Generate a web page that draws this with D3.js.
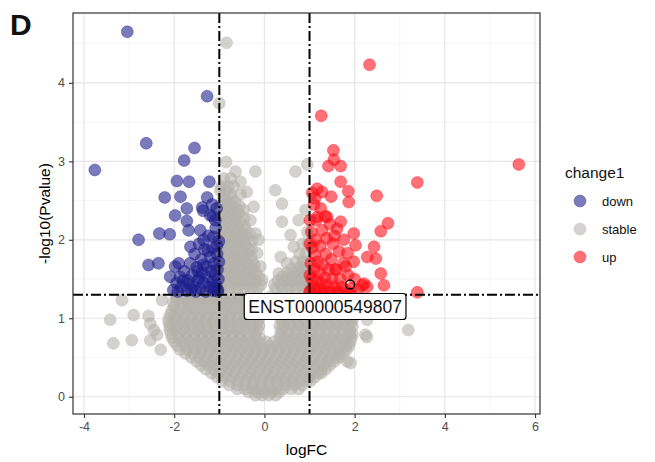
<!DOCTYPE html>
<html>
<head>
<meta charset="utf-8">
<script src="https://cdn.jsdelivr.net/npm/d3@7"></script>
<style>
  body { margin: 0; background: #fff; }
  text { font-family: "Liberation Sans", Arial, sans-serif; }
</style>
</head>
<body>
<div id="chart"></div>
<script>
// ---- data (logFC, -log10 Pvalue) ----
const downPoints = [
  [-3.04,4.65],[-1.27,3.83],[-2.62,3.23],[-3.76,2.89],[-1.55,3.17],[-1.78,3.01],[-1.94,2.75],[-1.67,2.74],
  [-1.22,2.74],[-2.21,2.54],[-1.86,2.55],[-1.27,2.54],[-1.72,2.40],[-1.38,2.41],[-1.16,2.45],[-1.98,2.31],
  [-1.72,2.24],[-1.20,2.31],[-1.09,2.25],[-1.36,2.37],[-1.68,2.12],[-2.33,2.08],[-2.10,2.07],[-2.79,2.00],
  [-1.42,2.12],[-1.35,2.00],[-1.64,1.91],[-1.13,2.04],[-1.05,1.93],[-2.57,1.68],[-2.35,1.70],[-1.98,1.66],
  [-2.09,1.53],[-1.87,1.53],
  [-1.95,1.45],[-1.85,1.40],[-1.78,1.60],[-1.72,1.35],[-1.70,1.48],[-1.65,1.70],[-1.60,1.55],[-1.58,1.40],
  [-1.55,1.82],[-1.52,1.34],[-1.50,1.65],[-1.47,1.48],[-1.45,1.95],[-1.42,1.38],[-1.40,1.75],[-1.38,1.58],
  [-1.35,1.45],[-1.33,1.88],[-1.30,1.34],[-1.28,1.66],[-1.26,1.52],[-1.24,2.05],[-1.22,1.40],[-1.20,1.78],
  [-1.18,1.60],[-1.16,1.47],[-1.15,1.90],[-1.13,1.35],[-1.12,1.70],[-1.10,1.55],[-1.08,2.15],[-1.07,1.42],
  [-1.05,1.82],[-1.04,1.62],[-1.03,1.36],[-1.02,1.50],[-1.01,1.98],[-1.01,1.72],[-1.90,1.70],[-1.80,1.48],
  [-1.62,1.36],[-1.48,1.60],[-1.36,1.68],[-1.25,1.86],[-1.14,2.30],[-1.06,2.40],[-1.68,1.44],[-1.44,1.52],
  [-2.02,1.36],[-1.92,1.34],[-1.12,1.38],[-1.03,1.34]
];

const upPoints = [
  [2.33,4.23],[1.26,3.58],[5.64,2.96],[1.53,3.14],[1.54,3.02],[1.42,2.94],[1.69,2.94],[3.39,2.73],
  [1.69,2.74],[1.86,2.62],[2.49,2.56],[1.87,2.48],[1.48,2.55],[1.17,2.65],[1.28,2.61],[1.12,2.53],
  [2.74,2.21],[2.58,2.11],[1.39,2.29],[1.17,2.29],[1.69,2.23],[1.61,2.14],[1.98,2.08],[1.76,2.00],
  [2.02,1.93],[2.43,1.91],[2.28,1.78],[2.47,1.76],[1.98,1.72],[1.84,1.83],[2.58,1.57],[2.65,1.42],
  [2.21,1.44],[1.80,1.66],[1.58,1.62],[2.28,1.40],[2.17,1.42],[3.39,1.33],
  [1.02,1.35],[1.05,1.50],[1.03,1.70],[1.06,1.90],[1.04,2.10],[1.08,1.40],[1.10,1.62],[1.12,1.80],
  [1.14,2.00],[1.12,1.34],[1.16,1.48],[1.18,1.72],[1.20,1.38],[1.22,1.58],[1.24,1.92],[1.26,1.45],
  [1.28,2.12],[1.30,1.68],[1.32,1.36],[1.34,1.52],[1.36,1.82],[1.38,2.02],[1.40,1.42],[1.42,1.62],
  [1.45,1.34],[1.48,1.75],[1.50,1.50],[1.52,1.95],[1.55,1.40],[1.58,1.62],[1.62,1.35],[1.65,1.85],
  [1.68,1.50],[1.72,1.40],[1.75,1.70],[1.80,1.36],[1.85,1.55],[1.92,1.38],[2.00,1.50],[2.08,1.36],
  [1.15,2.25],[1.25,2.40],[1.10,2.45],[1.35,2.30],[1.45,2.20],[1.55,2.05],[1.06,2.60],[1.01,1.55],
  [1.01,1.95],[1.01,2.25],[1.30,1.32],[1.60,1.32],[1.88,1.32],[1.00,1.33]
];

// stable genes, listed row by row as [-log10 Pvalue, [logFC, ...]]
const stableRows = [
  [0.02, [-0.2,-0.05,0.1,0.25]],
  [0.06, [-0.35,-0.17,0.0,0.17,0.33]],
  [0.10, [-0.6,-0.43,-0.26,-0.09,0.08,0.25,0.42,0.59,0.76]],
  [0.15, [-0.78,-0.6,-0.42,-0.24,-0.06,0.12,0.3,0.48,0.66,0.84]],
  [0.20, [-0.93,-0.76,-0.59,-0.42,-0.25,-0.08,0.09,0.26,0.43,0.6,0.77,0.94,1.02]],
  [0.25, [-1.05,-0.88,-0.71,-0.54,-0.37,-0.2,-0.03,0.14,0.31,0.48,0.65,0.82,0.99,1.12]],
  [0.30, [-1.17,-1.0,-0.83,-0.66,-0.49,-0.32,-0.15,0.02,0.19,0.36,0.53,0.7,0.87,1.04,1.2,1.26]],
  [0.35, [-1.3,-1.12,-0.95,-0.78,-0.61,-0.44,-0.27,-0.1,0.07,0.24,0.41,0.58,0.75,0.92,1.09,1.26,1.36]],
  [0.40, [-1.4,-1.23,-1.06,-0.89,-0.72,-0.55,-0.38,-0.21,-0.04,0.13,0.3,0.47,0.64,0.81,0.98,1.15,1.32,1.45]],
  [0.45, [-1.5,-1.33,-1.16,-0.99,-0.82,-0.65,-0.48,-0.31,-0.14,0.03,0.2,0.37,0.54,0.71,0.88,1.05,1.22,1.39,1.55]],
  [0.50, [-1.62,-1.45,-1.28,-1.11,-0.94,-0.77,-0.6,-0.43,-0.26,-0.09,0.08,0.25,0.42,0.59,0.76,0.93,1.1,1.27,1.44,1.6,1.67]],
  [0.55, [-1.75,-1.58,-1.41,-1.24,-1.07,-0.9,-0.73,-0.56,-0.39,-0.22,-0.05,0.12,0.29,0.46,0.63,0.8,0.97,1.14,1.31,1.48,1.65,1.75]],
  [0.60, [-1.87,-1.7,-1.53,-1.36,-1.19,-1.02,-0.85,-0.68,-0.51,-0.34,-0.17,0.0,0.17,0.34,0.51,0.68,0.85,1.02,1.19,1.36,1.53,1.7,1.82]],
  [0.65, [-1.93,-1.76,-1.59,-1.42,-1.25,-1.08,-0.91,-0.74,-0.57,-0.4,-0.23,-0.06,0.11,0.28,0.45,0.62,0.79,0.96,1.13,1.3,1.47,1.64,1.81,1.88]],
  [0.70, [-2.0,-1.83,-1.66,-1.49,-1.32,-1.15,-0.98,-0.81,-0.64,-0.47,-0.3,-0.13,0.04,0.21,0.38,0.55,0.72,0.89,1.06,1.23,1.4,1.57,1.74,1.9]],
  [0.75, [-2.05,-1.9,-1.74,-1.57,-1.4,-1.23,-1.06,-0.89,-0.72,-0.55,-0.38,-0.21,-0.1,0.34,0.47,0.64,0.81,0.98,1.15,1.32,1.49,1.66,1.83,1.93]],
  [0.80, [-2.07,-1.9,-1.73,-1.56,-1.39,-1.22,-1.05,-0.88,-0.71,-0.54,-0.37,-0.2,0.36,0.53,0.7,0.87,1.04,1.21,1.38,1.55,1.72,1.89,1.95]],
  [0.85, [-2.1,-1.98,-1.81,-1.64,-1.47,-1.3,-1.13,-0.96,-0.79,-0.62,-0.45,-0.28,-0.15,0.38,0.53,0.7,0.87,1.04,1.21,1.38,1.55,1.72,1.89]],
  [0.90, [-2.1,-1.93,-1.76,-1.59,-1.42,-1.25,-1.08,-0.91,-0.74,-0.57,-0.4,-0.23,-0.12,0.34,0.44,0.61,0.78,0.95,1.12,1.29,1.46,1.63,1.8,1.95]],
  [0.95, [-2.12,-2.0,-1.83,-1.66,-1.49,-1.32,-1.15,-0.98,-0.81,-0.64,-0.47,-0.3,-0.15,0.4,0.56,0.73,0.9,1.07,1.24,1.41,1.58,1.75,1.92]],
  [1.00, [-2.12,-1.95,-1.78,-1.61,-1.44,-1.27,-1.1,-0.93,-0.76,-0.59,-0.42,-0.25,-0.12,0.35,0.52,0.69,0.86,1.03,1.2,1.37,1.54,1.71,1.88,1.97]],
  [1.05, [-2.08,-1.96,-1.79,-1.62,-1.45,-1.28,-1.11,-0.94,-0.77,-0.6,-0.43,-0.26,-0.1,0.38,0.54,0.71,0.88,1.05,1.22,1.39,1.56,1.73,1.9]],
  [1.10, [-2.05,-1.88,-1.71,-1.54,-1.37,-1.2,-1.03,-0.86,-0.69,-0.52,-0.35,-0.18,-0.05,0.3,0.45,0.62,0.79,0.96,1.13,1.3,1.47,1.64,1.81,1.98]],
  [1.15, [-2.0,-1.8,-1.62,-1.45,-1.28,-1.11,-0.94,-0.77,-0.6,-0.43,-0.26,-0.09,0.1,0.27,0.44,0.61,0.78,0.95,1.12,1.29,1.46,1.63,1.8,1.96]],
  [1.20, [-2.02,-1.85,-1.68,-1.51,-1.34,-1.17,-1.0,-0.83,-0.66,-0.49,-0.32,-0.15,0.02,0.19,0.36,0.53,0.7,0.87,1.04,1.21,1.38,1.55,1.72,1.89,2.02]],
  [1.24, [-1.95,-1.76,-1.59,-1.42,-1.25,-1.08,-0.91,-0.74,-0.57,-0.4,-0.23,-0.06,0.11,0.28,0.45,0.62,0.79,0.96,1.13,1.3,1.47,1.64,1.81,1.98]],
  [1.28, [-1.95,-1.75,-1.55,-1.35,-1.15,-0.95,-0.75,-0.55,-0.35,-0.15,0.15,0.35,0.55,0.75,0.95,1.15,1.35,1.55,1.75,1.95,2.1]],
  [1.38, [-0.9,-0.75,-0.6,-0.45,-0.3,-0.15,0.25,0.4,0.55,0.7,0.85,0.97]],
  [1.43, [-0.98,-0.83,-0.68,-0.53,-0.38,-0.23,-0.08,0.22,0.37,0.52,0.67,0.82,0.95]],
  [1.48, [-0.95,-0.8,-0.65,-0.5,-0.35,-0.2,0.3,0.45,0.6,0.75,0.9]],
  [1.53, [-0.88,-0.72,-0.57,-0.42,-0.27,-0.12,0.4,0.55,0.7,0.85,0.98]],
  [1.58, [-0.9,-0.75,-0.6,-0.45,-0.3,-0.18,0.5,0.65,0.8,0.95]],
  [1.63, [-0.98,-0.83,-0.68,-0.53,-0.38,-0.25,0.6,0.75,0.9]],
  [1.68, [-0.95,-0.8,-0.65,-0.5,-0.36,-0.22]],
  [1.72, [0.7,0.85,0.97]],
  [1.73, [-0.88,-0.72,-0.57,-0.42,-0.28]],
  [1.78, [-0.9,-0.75,-0.6,-0.45,-0.3]],
  [1.82, [0.78,0.92]],
  [1.83, [-0.98,-0.83,-0.68,-0.53,-0.38]],
  [1.88, [-0.95,-0.8,-0.65,-0.5,-0.35,-0.28]],
  [1.93, [-0.88,-0.72,-0.57,-0.42]],
  [1.95, [0.85,0.97]],
  [1.98, [-0.9,-0.75,-0.6,-0.45,-0.28]],
  [2.03, [-0.98,-0.83,-0.68,-0.53,-0.38]],
  [2.08, [-0.95,-0.8,-0.65,-0.5,-0.33]],
  [2.10, [0.95]],
  [2.13, [-0.88,-0.72,-0.57,-0.42]],
  [2.18, [-0.9,-0.75,-0.6,-0.45]],
  [2.23, [-0.98,-0.83,-0.68,-0.55]],
  [2.28, [-0.95,-0.8,-0.65,-0.45]],
  [2.33, [-0.88,-0.72,-0.57]],
  [2.38, [-0.9,-0.75,-0.6,-0.46]],
  [2.43, [-0.98,-0.83,-0.7,-0.55]],
  [2.48, [-0.95,-0.8,-0.65]],
  [2.53, [-0.88,-0.72]],
  [2.58, [-0.9,-0.75,-0.53]],
  [2.63, [-0.98,-0.85]],
  [2.68, [-0.95,-0.8,-0.68]],
  [2.78, [-0.9,-0.75]]
];

const stableExtra = [
  [-0.84,4.51],[-1.0,3.74],[-0.85,2.99],[-0.64,2.87],[-0.2,2.87],[-0.53,2.74],[-0.39,2.61],[-0.24,2.42],
  [-0.31,2.25],[-0.2,2.08],[-0.13,2.0],[-0.16,1.83],[-0.09,1.66],[-0.05,1.49],
  [0.95,2.96],[0.69,2.87],[0.24,2.63],[0.39,2.46],[0.91,2.38],[0.39,2.23],[0.76,2.25],[0.58,2.06],
  [0.65,1.91],[0.36,1.78],[0.5,1.7],[0.32,1.57],[0.8,1.66],
  [-3.16,1.23],[-3.42,0.98],[-2.9,1.04],[-2.57,1.03],[-2.53,0.93],[-3.35,0.68],[-2.94,0.72],[-2.27,1.23],
  [-2.53,0.72],[-2.38,0.79],[-2.45,0.85],[-2.3,0.6],
  [3.19,0.85],[2.27,0.76],[2.28,0.98],[1.91,0.43],[2.24,0.79],[1.84,0.45]
];

const labelGene = { name: "ENST00000549807", logFC: 1.9, p: 1.43 };

const xTicks = [-4, -2, 0, 2, 4, 6];
const yTicks = [0, 1, 2, 3, 4];
const groups = ["down", "stable", "up"];
const colors = { down: "#1B1B8C", stable: "#B4B2AB", up: "#FF0A14" };

// ---- layout ----
const width = 655, height = 462;
const panel = { left: 73, top: 13, right: 540, bottom: 414 };

const xScale = d3.scaleLinear().domain([-4.244, 6.11]).range([panel.left, panel.right]);
const yScale = d3.scaleLinear().domain([-0.22, 4.89]).range([panel.bottom, panel.top]);

const svg = d3.select("#chart").append("svg").attr("width", width).attr("height", height);

// grid
const xMinor = [-3, -1, 1, 3, 5];
const yMinor = [0.5, 1.5, 2.5, 3.5, 4.5];
const grid = svg.append("g");
grid.selectAll("line.xminor").data(xMinor).join("line")
  .attr("x1", d => xScale(d)).attr("x2", d => xScale(d))
  .attr("y1", panel.top).attr("y2", panel.bottom)
  .attr("stroke", "#F0F0F0").attr("stroke-width", 0.7);
grid.selectAll("line.yminor").data(yMinor).join("line")
  .attr("y1", d => yScale(d)).attr("y2", d => yScale(d))
  .attr("x1", panel.left).attr("x2", panel.right)
  .attr("stroke", "#F0F0F0").attr("stroke-width", 0.7);
grid.selectAll("line.xmajor").data(xTicks).join("line")
  .attr("x1", d => xScale(d)).attr("x2", d => xScale(d))
  .attr("y1", panel.top).attr("y2", panel.bottom)
  .attr("stroke", "#E6E6E6").attr("stroke-width", 1.2);
grid.selectAll("line.ymajor").data(yTicks).join("line")
  .attr("y1", d => yScale(d)).attr("y2", d => yScale(d))
  .attr("x1", panel.left).attr("x2", panel.right)
  .attr("stroke", "#E6E6E6").attr("stroke-width", 1.2);

// points
const stablePoints = [];
stableRows.forEach(([p, xs]) => xs.forEach(fc => stablePoints.push([fc, p])));
stableExtra.forEach(d => stablePoints.push(d));

function drawPoints(data, col) {
  svg.append("g").selectAll("circle").data(data).join("circle")
    .attr("cx", d => xScale(d[0]))
    .attr("cy", d => yScale(d[1]))
    .attr("r", 6)
    .attr("fill", col).attr("fill-opacity", 0.58)
    .attr("stroke", col).attr("stroke-opacity", 0.45).attr("stroke-width", 0.8);
}
drawPoints(stablePoints, colors.stable);
drawPoints(downPoints, colors.down);
drawPoints(upPoints, colors.up);

// threshold lines
const dash = "10,3,2,3";
svg.selectAll("line.vthr").data([-1, 1]).join("line")
  .attr("x1", d => xScale(d)).attr("x2", d => xScale(d))
  .attr("y1", panel.top).attr("y2", panel.bottom)
  .attr("stroke", "#000").attr("stroke-width", 2).attr("stroke-dasharray", dash);
svg.append("line")
  .attr("x1", panel.left).attr("x2", panel.right)
  .attr("y1", yScale(-Math.log10(0.05))).attr("y2", yScale(-Math.log10(0.05)))
  .attr("stroke", "#000").attr("stroke-width", 2).attr("stroke-dasharray", dash);

// labelled gene
const gx = xScale(labelGene.logFC), gy = yScale(labelGene.p);
svg.append("circle").attr("cx", gx).attr("cy", gy).attr("r", 4.5)
  .attr("fill", "none").attr("stroke", "#000").attr("stroke-width", 1.3);
const lab = svg.append("g").attr("transform", `translate(${gx - 25},${gy + 22})`);
const labText = lab.append("text")
  .attr("text-anchor", "middle").attr("dy", "0.36em")
  .attr("font-size", 17.5).attr("fill", "#111")
  .text(labelGene.name);
const bb = labText.node().getBBox();
lab.insert("rect", "text")
  .attr("x", bb.x - 4).attr("y", -13).attr("width", bb.width + 8).attr("height", 26)
  .attr("rx", 3).attr("fill", "#fff").attr("stroke", "#000").attr("stroke-width", 1.2);

// border
svg.append("rect")
  .attr("x", panel.left).attr("y", panel.top)
  .attr("width", panel.right - panel.left).attr("height", panel.bottom - panel.top)
  .attr("fill", "none").attr("stroke", "#333").attr("stroke-width", 1.2);

// axes
const xAxis = svg.append("g").attr("transform", `translate(0,${panel.bottom})`)
  .call(d3.axisBottom(xScale).tickValues(xTicks).tickSize(4).tickPadding(4).tickFormat(d3.format("d")));
const yAxis = svg.append("g").attr("transform", `translate(${panel.left},0)`)
  .call(d3.axisLeft(yScale).tickValues(yTicks).tickSize(4).tickPadding(4).tickFormat(d3.format("d")));
[xAxis, yAxis].forEach(a => {
  a.select(".domain").remove();
  a.selectAll(".tick line").attr("stroke", "#333").attr("stroke-width", 1.1);
  a.selectAll(".tick text").attr("fill", "#4D4D4D").attr("font-size", 12.5)
    .attr("font-family", "Liberation Sans, Arial, sans-serif");
});
xAxis.selectAll(".tick text").text(d => d < 0 ? "-" + Math.abs(d) : d);

// axis titles
svg.append("text").attr("x", (panel.left + panel.right) / 2).attr("y", 455)
  .attr("text-anchor", "middle").attr("font-size", 15.5).attr("fill", "#000").text("logFC");
svg.append("text").attr("transform", `translate(50,${(panel.top + panel.bottom) / 2}) rotate(-90)`)
  .attr("text-anchor", "middle").attr("font-size", 15.5).attr("fill", "#000").text("-log10(Pvalue)");

// panel tag
svg.append("text").attr("x", 10).attr("y", 35).attr("font-size", 30)
  .attr("font-weight", "bold").attr("fill", "#111").text("D");

// legend
const legend = svg.append("g").attr("transform", "translate(565,0)");
legend.append("text").attr("x", 0).attr("y", 178).attr("font-size", 15.5).attr("fill", "#111").text("change1");
const keys = legend.selectAll("g.key").data(groups).join("g")
  .attr("transform", (d, i) => `translate(0,${201 + i * 28})`);
keys.append("circle").attr("cx", 15).attr("cy", 0).attr("r", 6)
  .attr("fill", d => colors[d]).attr("fill-opacity", 0.58)
  .attr("stroke", d => colors[d]).attr("stroke-opacity", 0.45).attr("stroke-width", 0.8);
keys.append("text").attr("x", 37).attr("dy", "0.36em").attr("font-size", 13).attr("fill", "#111")
  .text(d => d);
</script>
</body>
</html>
